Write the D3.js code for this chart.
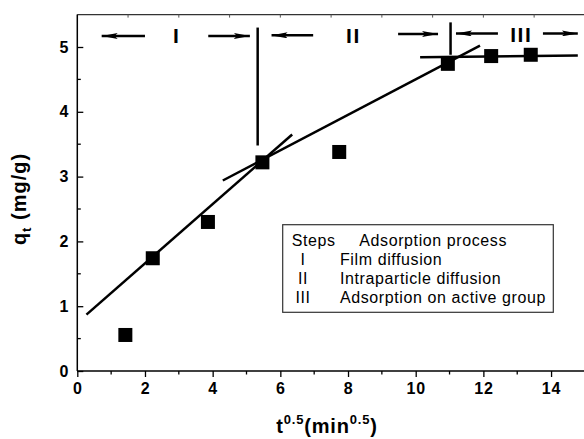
<!DOCTYPE html>
<html><head><meta charset="utf-8">
<script src="https://cdn.jsdelivr.net/npm/d3@7"></script>
<style>
body{margin:0;background:#fff;}
svg{display:block;font-family:"Liberation Sans",Arial,sans-serif;}
</style></head>
<body><svg id="chart" width="584" height="439"></svg>
<script>
// ---- data ----
const tHalf = [1.42, 2.23, 3.86, 5.47, 7.74, 10.95, 12.23, 13.4];
const qt    = [0.556, 1.74, 2.30, 3.22, 3.38, 4.74, 4.86, 4.88];
const xTicks = [0, 2, 4, 6, 8, 10, 12, 14];
const yTicks = [0, 1, 2, 3, 4, 5];
// fitted line segments [x1,y1,x2,y2] in data units
const fitLines = [[0.27, 0.87, 6.35, 3.65], [4.3, 2.94, 11.9, 5.02], [10.13, 4.84, 14.79, 4.87]];
const dividers = [[5.33, 3.48, 5.33, 5.30], [11.03, 4.88, 11.03, 5.38]];
// arrows: [tailX, tipX, y]
const arrows = [[2.0, 0.72, 5.17], [3.87, 5.1, 5.17], [6.97, 5.74, 5.18], [9.48, 10.66, 5.2], [12.43, 11.19, 5.21], [13.76, 14.79, 5.21]];
const stageLabels = ["I", "II", "III"];
const stageX = [2.94, 8.16, 13.12];
const stageY = [5.17, 5.17, 5.2];
const legendSteps = ["I", "II", "III"];
const legendDesc = ["Film diffusion", "Intraparticle diffusion", "Adsorption on active group"];

// ---- layout ----
const svg = d3.select("#chart");
const x = d3.scaleLinear().domain([0, 15]).range([77.3, 584.9]);
const y = d3.scaleLinear().domain([0, 5.5]).range([371, 14.6]);
const font = '"Liberation Sans",Arial,sans-serif';

svg.append("defs").append("marker")
  .attr("id", "ah").attr("viewBox", "0 0 16 6").attr("refX", 16).attr("refY", 3)
  .attr("markerWidth", 16).attr("markerHeight", 6).attr("markerUnits", "userSpaceOnUse")
  .attr("orient", "auto")
  .append("path").attr("d", "M0,0 L16,3 L0,6 L3,3 Z").attr("fill", "#000");

// frame (top border)
svg.append("line").attr("x1", x(0)).attr("x2", x(15)).attr("y1", y(5.5)).attr("y2", y(5.5))
  .attr("stroke", "#333").attr("stroke-width", 1.2);
// top minor ticks
svg.append("g").selectAll("line").data(d3.range(1.5, 15, 1.5)).join("line")
  .attr("x1", d => x(d)).attr("x2", d => x(d)).attr("y1", y(5.5)).attr("y2", y(5.5) + 3)
  .attr("stroke", "#555").attr("stroke-width", 1);

// x axis
const xAxis = d3.axisBottom(x).tickValues(xTicks).tickSize(6).tickPadding(6).tickFormat(d3.format("d"));
const gx = svg.append("g").attr("transform", `translate(0,${y(0)})`).call(xAxis);
gx.select(".domain").attr("stroke-width", 1.5).attr("d", `M${x(0)},0H${x(15)}`);
gx.selectAll(".tick line").attr("stroke-width", 1.3);
gx.selectAll(".tick text").attr("font-family", font).attr("font-size", 16).attr("font-weight", "bold")
  .attr("letter-spacing", "0.8px").attr("fill", "#000");
svg.append("g").selectAll("line").data(d3.range(1, 15, 2)).join("line")
  .attr("x1", d => x(d)).attr("x2", d => x(d)).attr("y1", y(0)).attr("y2", y(0) + 3.5)
  .attr("stroke", "#000").attr("stroke-width", 1.3);

// y axis (ticks inward)
const yAxis = d3.axisLeft(y).tickValues(yTicks).tickSize(-6).tickPadding(9).tickFormat(d3.format("d"));
const gy = svg.append("g").attr("transform", `translate(${x(0)},0)`).call(yAxis);
gy.select(".domain").attr("stroke-width", 1.5).attr("d", `M0,${y(0)}V${y(5.5)}`);
gy.selectAll(".tick line").attr("stroke-width", 1.3);
gy.selectAll(".tick text").attr("font-family", font).attr("font-size", 16).attr("font-weight", "bold").attr("fill", "#000");
svg.append("g").selectAll("line").data(d3.range(0.5, 5.5, 1)).join("line")
  .attr("x1", x(0)).attr("x2", x(0) + 3.5).attr("y1", d => y(d)).attr("y2", d => y(d))
  .attr("stroke", "#000").attr("stroke-width", 1.3);

// fitted lines and dividers
svg.append("g").selectAll("line").data(fitLines.concat(dividers)).join("line")
  .attr("x1", d => x(d[0])).attr("y1", d => y(d[1])).attr("x2", d => x(d[2])).attr("y2", d => y(d[3]))
  .attr("stroke", "#000").attr("stroke-width", 2.5);

// arrows
svg.append("g").selectAll("line").data(arrows).join("line")
  .attr("x1", d => x(d[0])).attr("y1", d => y(d[2])).attr("x2", d => x(d[1])).attr("y2", d => y(d[2]))
  .attr("stroke", "#000").attr("stroke-width", 2.5).attr("marker-end", "url(#ah)");

// stage labels
svg.append("g").selectAll("text").data(stageLabels).join("text")
  .attr("x", (d, i) => x(stageX[i])).attr("y", (d, i) => y(stageY[i]) + 7.5)
  .attr("text-anchor", "middle").attr("font-family", font).attr("font-size", 21)
  .attr("font-weight", "bold").attr("letter-spacing", "1.5px").text(d => d);

// data squares
const sz = 14;
svg.append("g").selectAll("rect").data(tHalf).join("rect")
  .attr("x", d => x(d) - sz / 2).attr("y", (d, i) => y(qt[i]) - sz / 2)
  .attr("width", sz).attr("height", sz).attr("fill", "#000");

// legend
const lg = svg.append("g").attr("font-family", font).attr("font-size", 16).attr("letter-spacing", "0.6px");
lg.append("rect").attr("x", 282.7).attr("y", 224.7).attr("width", 270.6).attr("height", 87.6)
  .attr("fill", "#fff").attr("stroke", "#333").attr("stroke-width", 1.2);
lg.append("text").attr("x", 291.7).attr("y", 245.5).text("Steps");
lg.append("text").attr("x", 359.3).attr("y", 245.5).text("Adsorption process");
lg.selectAll(".st").data(legendSteps).join("text").attr("class", "st")
  .attr("x", 303).attr("y", (d, i) => 264.5 + i * 19.2).attr("text-anchor", "middle").text(d => d);
lg.selectAll(".ds").data(legendDesc).join("text").attr("class", "ds")
  .attr("x", 340).attr("y", (d, i) => 264.5 + i * 19.2).text(d => d);

// axis titles
const xt = svg.append("text").attr("x", 327).attr("y", 433).attr("text-anchor", "middle")
  .attr("font-family", font).attr("font-size", 20).attr("font-weight", "bold").attr("letter-spacing", "0.8px");
xt.append("tspan").text("t");
xt.append("tspan").attr("font-size", 13).attr("dy", -9).text("0.5");
xt.append("tspan").attr("dy", 9).text("(min");
xt.append("tspan").attr("font-size", 13).attr("dy", -9).text("0.5");
xt.append("tspan").attr("dy", 9).text(")");

const yt = svg.append("text").attr("transform", "translate(26,199) rotate(-90)").attr("text-anchor", "middle")
  .attr("font-family", font).attr("font-size", 20).attr("font-weight", "bold").attr("letter-spacing", "1px");
yt.append("tspan").text("q");
yt.append("tspan").attr("font-size", 13).attr("dy", 5).text("t");
yt.append("tspan").attr("dy", -5).text(" (mg/g)");
</script></body></html>
